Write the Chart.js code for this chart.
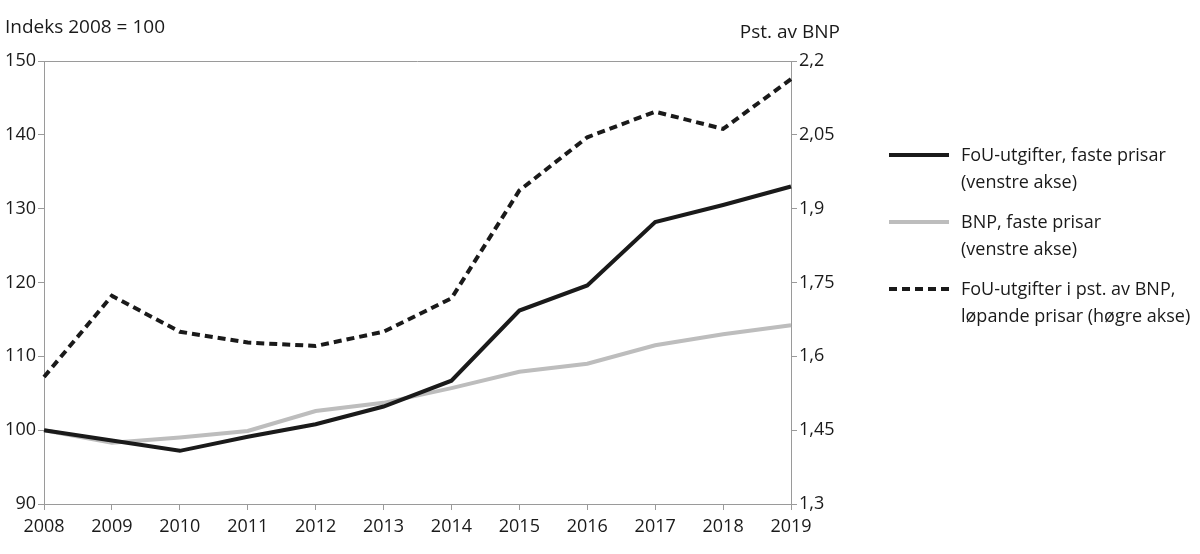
<!DOCTYPE html>
<html>
<head>
<meta charset="utf-8">
<script src="https://cdn.jsdelivr.net/npm/chart.js@4.4.1/dist/chart.umd.min.js"></script>
<style>
  body { margin: 0; background: #fff; font-family: "Open Sans", sans-serif; color: #1a1a1a; }
  .wrap { position: relative; width: 1200px; height: 554px; }
  .axis-title { position: absolute; font-size: 19px; white-space: nowrap; }
  .legend { position: absolute; left: 889px; top: 141px; font-size: 18px; line-height: 27px; }
  .legend .item { display: flex; align-items: flex-start; margin-bottom: 13px; }
  .legend .swatch { width: 60px; height: 4px; margin-top: 12px; margin-right: 12px; flex: none; }
</style>
</head>
<body>
<div class="wrap">
  <canvas id="myChart" width="1200" height="554"></canvas>
  <div class="axis-title" style="left:5px; top:13px;">Indeks 2008 = 100</div>
  <div class="axis-title" style="right:360px; top:18px;">Pst. av BNP</div>
  <div class="legend" id="legend"></div>
</div>
<script>
const years = ["2008", "2009", "2010", "2011", "2012", "2013", "2014", "2015", "2016", "2017", "2018", "2019"];

// venstre akse, indeks 2008 = 100
const fouFaste = [100, 98.6, 97.2, 99.1, 100.8, 103.2, 106.7, 116.2, 119.6, 128.2, 130.5, 133.0];
const bnpFaste = [100, 98.3, 99.0, 99.9, 102.6, 103.7, 105.7, 107.9, 109.0, 111.5, 113.0, 114.2];

// høgre akse, pst. av BNP
const fouPstBnp = [1.558, 1.723, 1.650, 1.628, 1.621, 1.650, 1.718, 1.937, 2.045, 2.097, 2.062, 2.163];

const leftTicks = [90, 100, 110, 120, 130, 140, 150];
const rightTicks = [1.3, 1.45, 1.6, 1.75, 1.9, 2.05, 2.2];

const seriesNames = [
    ["FoU-utgifter, faste prisar", "(venstre akse)"],
    ["BNP, faste prisar", "(venstre akse)"],
    ["FoU-utgifter i pst. av BNP,", "løpande prisar (høgre akse)"]
];

const axisColor = "#9a9a9a";
const textColor = "#1a1a1a";
const tickFont = { family: "Open Sans", size: 18 };

const topBorder = {
    id: "topBorder",
    afterDraw(chart) {
        const { ctx, chartArea } = chart;
        ctx.save();
        ctx.strokeStyle = axisColor;
        ctx.lineWidth = 1;
        ctx.beginPath();
        ctx.moveTo(chartArea.left, chartArea.top + 0.5);
        ctx.lineTo(chartArea.right, chartArea.top + 0.5);
        ctx.stroke();
        ctx.restore();
    }
};

const config = {
    type: "line",
    data: {
        labels: years,
        datasets: [
            {
                label: seriesNames[0].join(" "),
                data: fouFaste,
                yAxisID: "y",
                borderColor: "#1a1a1a",
                borderWidth: 4,
                pointRadius: 0,
                tension: 0
            },
            {
                label: seriesNames[1].join(" "),
                data: bnpFaste,
                yAxisID: "y",
                borderColor: "#bdbdbd",
                borderWidth: 4,
                pointRadius: 0,
                tension: 0
            },
            {
                label: seriesNames[2].join(" "),
                data: fouPstBnp,
                yAxisID: "y1",
                borderColor: "#1a1a1a",
                borderWidth: 4,
                borderDash: [8, 5],
                pointRadius: 0,
                tension: 0
            }
        ]
    },
    options: {
        responsive: false,
        animation: false,
        layout: { padding: { top: 61, right: 359, left: 0, bottom: 0 } },
        plugins: {
            legend: { display: false },
            tooltip: { enabled: false }
        },
        scales: {
            x: {
                offset: false,
                border: { color: axisColor },
                grid: { drawOnChartArea: false, color: axisColor, tickLength: 6 },
                ticks: { color: textColor, font: tickFont, maxRotation: 0, padding: 6 },
                afterFit(scale) { scale.height = 50; }
            },
            y: {
                position: "left",
                min: leftTicks[0],
                max: leftTicks[leftTicks.length - 1],
                afterBuildTicks(scale) { scale.ticks = leftTicks.map(v => ({ value: v })); },
                border: { color: axisColor },
                grid: { drawOnChartArea: false, color: axisColor, tickLength: 6 },
                ticks: { color: textColor, font: tickFont, padding: 2 },
                afterFit(scale) { scale.width = 44; }
            },
            y1: {
                position: "right",
                min: rightTicks[0],
                max: rightTicks[rightTicks.length - 1],
                afterBuildTicks(scale) { scale.ticks = rightTicks.map(v => ({ value: v })); },
                border: { color: axisColor },
                grid: { drawOnChartArea: false, color: axisColor, tickLength: 6 },
                ticks: {
                    color: textColor,
                    font: tickFont,
                    padding: 2,
                    callback: v => String(Number(v.toFixed(2))).replace(".", ",")
                },
                afterFit(scale) { scale.width = 50; }
            }
        }
    },
    plugins: [topBorder]
};

const chart = new Chart(document.getElementById("myChart"), config);

// legend i HTML, bygd frå datasetta
const legendElem = document.getElementById("legend");
chart.data.datasets.forEach((ds, i) => {
    const item = document.createElement("div");
    item.className = "item";
    const swatch = document.createElement("div");
    swatch.className = "swatch";
    if (ds.borderDash) {
        swatch.style.background = `repeating-linear-gradient(to right, ${ds.borderColor} 0 8px, transparent 8px 13px)`;
    } else {
        swatch.style.background = ds.borderColor;
    }
    const text = document.createElement("div");
    text.innerHTML = seriesNames[i].join("<br>");
    item.appendChild(swatch);
    item.appendChild(text);
    legendElem.appendChild(item);
});
</script>
</body>
</html>
